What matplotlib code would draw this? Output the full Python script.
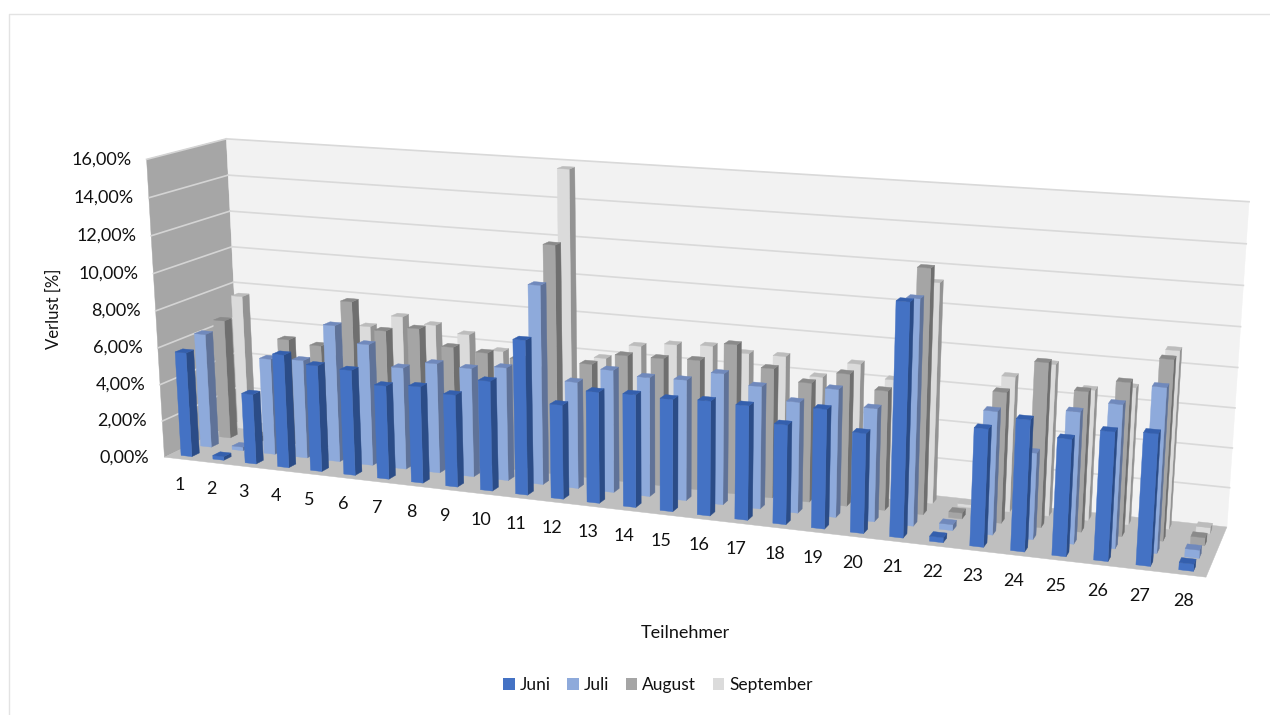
import numpy as np
import matplotlib
matplotlib.use('Agg')
import matplotlib.pyplot as plt
from matplotlib.patches import Polygon, Patch

plt.rcParams['font.family'] = ['Lato', 'DejaVu Sans']

# Verlust je Teilnehmer und Monat in Prozent
teilnehmer = [str(i) for i in range(1, 29)]
monate = ['Juni', 'Juli', 'August', 'September']
juni = [5.7, 0.2, 3.8, 6.1, 5.7, 5.63, 4.98, 5.12, 4.87, 5.77, 8.05, 4.9, 5.75, 5.8,
        5.75, 5.85, 5.8, 5.03, 6.0, 5.0, 11.55, 0.25, 5.8, 6.43, 5.7, 6.25, 6.35, 0.35]
juli = [6.27, 0.2, 5.25, 5.35, 7.4, 6.55, 5.47, 5.87, 5.79, 6.0, 10.45, 5.6, 6.4, 6.2,
        6.25, 6.75, 6.28, 5.67, 6.5, 5.72, 11.3, 0.3, 6.15, 4.3, 6.5, 7.05, 8.05, 0.4]
august = [6.6, 0.3, 5.87, 5.7, 8.27, 6.85, 7.13, 6.3, 6.16, 6.0, 12.15, 6.08, 6.7, 6.72,
          6.8, 7.78, 6.72, 6.16, 6.8, 6.12, 12.4, 0.3, 6.6, 8.25, 7.0, 7.63, 8.92, 0.4]
september = [7.55, 0.0, 3.5, 4.5, 6.5, 7.2, 6.9, 6.55, 5.8, 5.0, 15.75, 5.94, 6.76, 7.0,
             7.1, 6.88, 6.9, 6.0, 6.85, 6.2, 11.3, 0.15, 6.9, 7.7, 6.6, 6.9, 8.9, 0.3]
reihen = [juni, juli, august, september]
werte_ticks = [0, 2, 4, 6, 8, 10, 12, 14, 16]

# Farben: Vorderseite, rechte Seite, Deckel
farben = [('#4472C4', '#2B4C87', '#345FAD'),
          ('#8EAADB', '#5F7298', '#7089BC'),
          ('#A5A5A5', '#6F6F6F', '#8A8A8A'),
          ('#DBDBDB', '#939393', '#BCBCBC')]

BAR_U = 0.34  # Saeulenbreite je Kategorie
BAR_V = 0.38  # Saeulentiefe je Reihe
N_U, N_V, MAX_W = len(teilnehmer), len(monate), werte_ticks[-1]

# Kamera aus den Ecken des Diagramm-Raums bestimmen (u, v, w) -> Pixel
ecken_raum = [(0, 0, 0), (0, 1, 0), (0, 0, 1), (0, 1, 1), (1, 1, 0), (1, 1, 1), (1, 0, 0)]
ecken_pixel = [(165, 455), (240, 423), (146, 160), (227, 138), (1227, 525), (1249, 202), (1206, 579)]

A, b = [], []
for (u, v, w), (px, py) in zip(ecken_raum, ecken_pixel):
    A.append([u, v, w, 1, 0, 0, 0, 0, -px * u, -px * v, -px * w])
    A.append([0, 0, 0, 0, u, v, w, 1, -py * u, -py * v, -py * w])
    b += [px, py]
cam = np.append(np.linalg.lstsq(np.array(A, float), np.array(b, float), rcond=None)[0], 1).reshape(3, 4)


def project(cat, ser, val):
    # Kategorie, Reihe, Wert in Bildkoordinaten umrechnen
    p = cam @ np.array([cat / N_U, ser / N_V, val / MAX_W, 1.0])
    return p[0] / p[2], p[1] / p[2]


def flaeche(ax, punkte, farbe, z=1):
    ax.add_patch(Polygon([project(*p) for p in punkte], closed=True, facecolor=farbe,
                         edgecolor=farbe, linewidth=0.3, zorder=z))


fig = plt.figure(figsize=(12.7, 7.15), dpi=100)
ax = fig.add_axes([0, 0, 1, 1])
ax.set_xlim(0, 1270)
ax.set_ylim(715, 0)
ax.axis('off')

# Rahmen des Diagrammbereichs
ax.plot([8.5, 8.5, 1270], [715, 13.5, 13.5], color='#E3E3E3', lw=1, zorder=0)

# Waende und Boden
flaeche(ax, [(0, 0, 0), (0, N_V, 0), (0, N_V, MAX_W), (0, 0, MAX_W)], '#A6A6A6')
flaeche(ax, [(0, N_V, 0), (N_U, N_V, 0), (N_U, N_V, MAX_W), (0, N_V, MAX_W)], '#F2F2F2')
flaeche(ax, [(0, 0, 0), (N_U, 0, 0), (N_U, N_V, 0), (0, N_V, 0)], '#BFBFBF')

# Gitterlinien und Werteachse
for t in werte_ticks:
    x0, y0 = project(0, 0, t)
    x1, y1 = project(0, N_V, t)
    x2, y2 = project(N_U, N_V, t)
    if t > 0:
        ax.plot([x0, x1], [y0, y1], color='#D4D4D4', lw=1.2, zorder=2)
        ax.plot([x1, x2], [y1, y2], color='#D9D9D9', lw=1.2, zorder=2)
    ax.text(x0 - 15, y0, f'{t:.2f}%'.replace('.', ','), ha='right', va='center',
            fontsize=13, color='#111111')

# Saeulen von hinten nach vorn und von links nach rechts
for s in range(N_V - 1, -1, -1):
    v0 = s + (1 - BAR_V) / 2
    v1 = v0 + BAR_V
    vorne, seite, deckel = farben[s]
    for c, wert in enumerate(reihen[s]):
        if wert <= 0:
            continue
        u0 = c + (1 - BAR_U) / 2
        u1 = u0 + BAR_U
        flaeche(ax, [(u1, v0, 0), (u1, v1, 0), (u1, v1, wert), (u1, v0, wert)], seite, 3)
        flaeche(ax, [(u0, v0, 0), (u1, v0, 0), (u1, v0, wert), (u0, v0, wert)], vorne, 3)
        flaeche(ax, [(u0, v0, wert), (u1, v0, wert), (u1, v1, wert), (u0, v1, wert)], deckel, 3)

# Kategorienbeschriftung unter der Vorderkante
for c, name in enumerate(teilnehmer):
    x, y = project(c + 0.5, 0, 0)
    ax.text(x - 1, y + 26, name, ha='center', va='center', fontsize=13, color='#111111')

ax.text(54, 309, 'Verlust [%]', rotation=90, ha='center', va='center', fontsize=12, color='#111111')
ax.text(685, 633, 'Teilnehmer', ha='center', va='center', fontsize=13, color='#111111')

griffe = [Patch(facecolor=farben[i][0], label=monate[i]) for i in range(N_V)]
ax.legend(handles=griffe, loc='center', bbox_to_anchor=(658, 685), bbox_transform=ax.transData,
          ncol=4, frameon=False, fontsize=12.5, handlelength=0.65, handleheight=0.65,
          handletextpad=0.3, columnspacing=0.95, labelcolor='#111111')

plt.savefig('out.png', dpi=100)
